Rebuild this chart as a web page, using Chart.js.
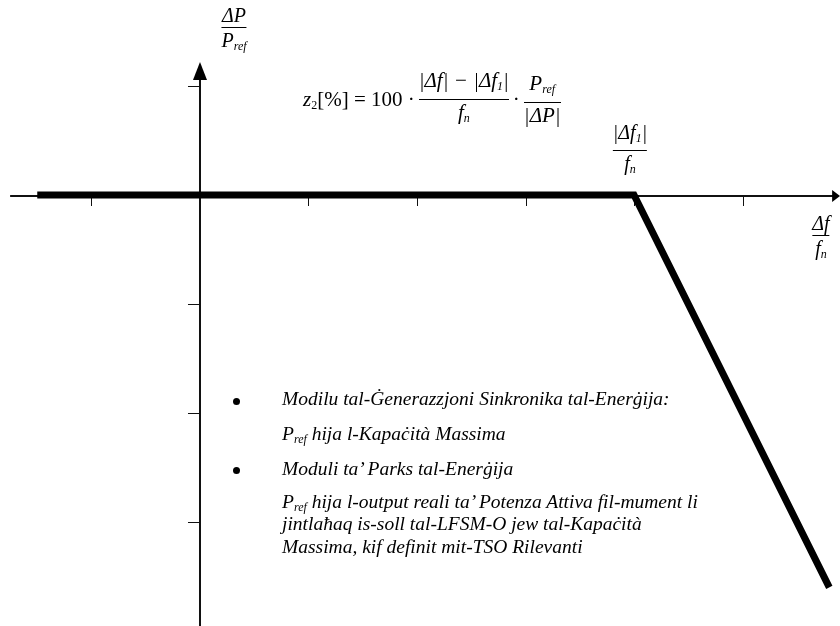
<!DOCTYPE html>
<html>
<head>
<meta charset="utf-8">
<script src="https://cdn.jsdelivr.net/npm/chart.js@4/dist/chart.umd.min.js"></script>
<style>
  body { margin: 0; background: #fff; }
  #wrap { position: relative; width: 840px; height: 626px; overflow: hidden; }
  #c { position: absolute; left: 0; top: 0; }
  .t { position: absolute; font-family: "Liberation Serif", "DejaVu Serif", serif; color: #000; white-space: nowrap; }
  .frac { position: absolute; transform: translateX(-50%); text-align: center; font-style: italic; font-size: 20px; line-height: 20px; }
  .frac .bar { border-top: 1.5px solid #000; margin: 2px 0; }
  .line { font-style: italic; font-size: 19.5px; line-height: 22px; }
  .dot { position: absolute; width: 7px; height: 7px; border-radius: 50%; background: #000; }
  sub { font-size: 12px; vertical-align: -3px; }
  #formula { display: flex; align-items: center; font-size: 21px; left: 303px; top: 70px; }
  #formula .f { display: inline-block; text-align: center; margin: 0 4px; font-style: italic; line-height: 21px; }
  #formula .f .bar { border-top: 1.5px solid #000; margin: 2px 0; }
</style>
</head>
<body>
<div id="wrap">
  <canvas id="c" width="840" height="626"></canvas>

  <div class="t frac" style="left:234px; top:5px;">ΔP<div class="bar"></div>P<sub>ref</sub></div>
  <div class="t frac" style="left:630px; top:122px;">|Δf<sub>1</sub>|<div class="bar"></div>f<sub>n</sub></div>
  <div class="t frac" style="left:821px; top:213px;">Δf<div class="bar"></div>f<sub>n</sub></div>

  <div class="t" id="formula">
    <span><i>z</i><sub>2</sub>[%] = 100 ·</span>
    <span class="f">|Δf| − |Δf<sub>1</sub>|<div class="bar"></div>f<sub>n</sub></span>
    <span>·</span>
    <span class="f">P<sub>ref</sub><div class="bar"></div>|ΔP|</span>
  </div>

  <div class="dot" style="left:233px; top:398px;"></div>
  <div class="t line" style="left:282px; top:388px;">Modilu tal-Ġenerazzjoni Sinkronika tal-Enerġija:</div>
  <div class="t line" style="left:282px; top:423px;">P<sub>ref</sub> hija l-Kapaċità Massima</div>
  <div class="dot" style="left:233px; top:467px;"></div>
  <div class="t line" style="left:282px; top:458px;">Moduli ta’ Parks tal-Enerġija</div>
  <div class="t line" style="left:282px; top:491px;">P<sub>ref</sub> hija l-output reali ta’ Potenza Attiva fil-mument li</div>
  <div class="t line" style="left:282px; top:513px;">jintlaħaq is-soll tal-LFSM-O jew tal-Kapaċità</div>
  <div class="t line" style="left:282px; top:536px;">Massima, kif definit mit-TSO Rilevanti</div>
</div>

<script>
// characteristic curve (x = Δf/fn in tick units, y = ΔP/Pref in tick units)
var curveX = [-1.5, 4, 5.8];
var curveY = [0, 0, -3.6];

// tick marks along the axes
var xTicks = [-1, 1, 2, 3, 4, 5];
var yTicks = [1, -1, -2, -3];

// axis extents (arrow tips)
var xAxisFrom = -1.75, xAxisTo = 5.9;
var yAxisFrom = -3.96, yAxisTo = 1.22;

var axesPlugin = {
    id: 'axes',
    beforeDatasetsDraw: function(chart) {
        var ctx = chart.ctx;
        var sx = chart.scales.x, sy = chart.scales.y;
        var x0 = sx.getPixelForValue(0), y0 = sy.getPixelForValue(0);
        ctx.save();
        ctx.strokeStyle = '#111';
        ctx.fillStyle = '#000';
        ctx.lineWidth = 2;
        // x axis
        ctx.beginPath();
        ctx.moveTo(sx.getPixelForValue(xAxisFrom), y0 + 1);
        ctx.lineTo(sx.getPixelForValue(xAxisTo) - 6, y0 + 1);
        ctx.stroke();
        var xe = sx.getPixelForValue(xAxisTo);
        ctx.beginPath();
        ctx.moveTo(xe, y0 + 1);
        ctx.lineTo(xe - 8, y0 - 5);
        ctx.lineTo(xe - 8, y0 + 7);
        ctx.closePath();
        ctx.fill();
        // y axis
        ctx.beginPath();
        ctx.moveTo(x0, sy.getPixelForValue(yAxisFrom));
        ctx.lineTo(x0, sy.getPixelForValue(yAxisTo) + 10);
        ctx.stroke();
        var ye = sy.getPixelForValue(yAxisTo);
        ctx.beginPath();
        ctx.moveTo(x0, ye);
        ctx.lineTo(x0 - 7, ye + 18);
        ctx.lineTo(x0 + 7, ye + 18);
        ctx.closePath();
        ctx.fill();
        // ticks
        ctx.lineWidth = 1;
        xTicks.forEach(function(v) {
            var px = Math.round(sx.getPixelForValue(v)) + 0.5;
            ctx.beginPath();
            ctx.moveTo(px, y0 + 1);
            ctx.lineTo(px, y0 + 11);
            ctx.stroke();
        });
        yTicks.forEach(function(v) {
            var py = Math.round(sy.getPixelForValue(v)) + 0.5;
            ctx.beginPath();
            ctx.moveTo(x0 - 12, py);
            ctx.lineTo(x0, py);
            ctx.stroke();
        });
        ctx.restore();
    }
};

var ctx = document.getElementById('c').getContext('2d');
new Chart(ctx, {
    type: 'scatter',
    data: {
        datasets: [{
            data: curveX.map(function(x, i) { return {x: x, y: curveY[i]}; }),
            showLine: true,
            borderColor: '#000',
            borderWidth: 7,
            borderJoinStyle: 'miter',
            borderCapStyle: 'butt',
            pointRadius: 0,
            tension: 0
        }]
    },
    options: {
        responsive: false,
        animation: false,
        layout: { padding: 0 },
        plugins: { legend: { display: false }, tooltip: { enabled: false } },
        scales: {
            x: { type: 'linear', display: false, min: -1.8433, max: 5.8986 },
            y: { type: 'linear', display: false, min: -3.954, max: 1.789 }
        }
    },
    plugins: [axesPlugin]
});
</script>
</body>
</html>
